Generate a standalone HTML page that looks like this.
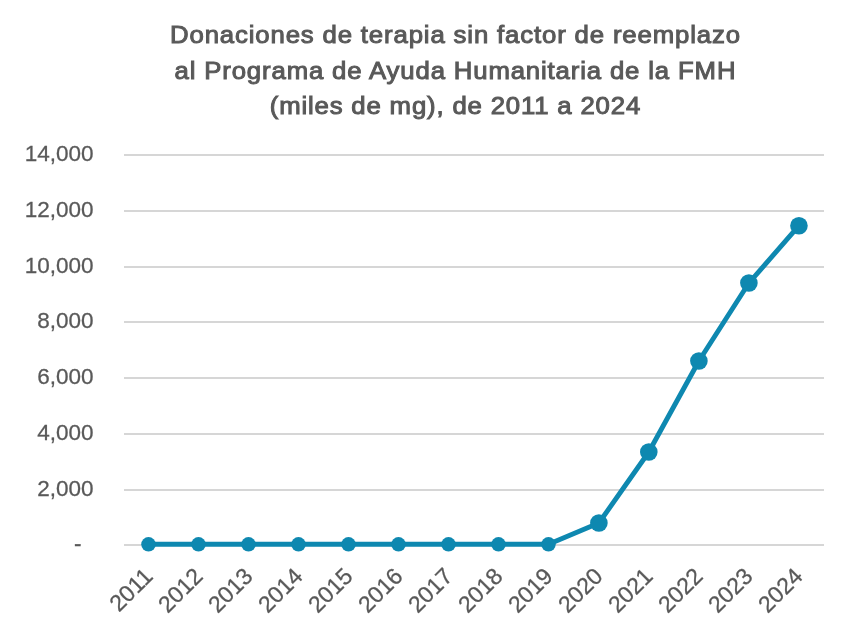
<!DOCTYPE html><html><head><meta charset="utf-8"><style>html,body{margin:0;padding:0;background:#fff;width:850px;height:635px;overflow:hidden}svg{display:block;will-change:transform}</style></head><body>
<svg width="850" height="635" viewBox="0 0 850 635">
<text x="455" y="42.6" text-anchor="middle" font-family="Liberation Sans" font-weight="normal" font-size="24.3" fill="#595959" stroke="#595959" stroke-width="1.0" textLength="537.7" lengthAdjust="spacing" transform="translate(455 0) scale(1.06 1) translate(-455 0)">Donaciones de terapia sin factor de reemplazo</text>
<text x="455" y="78.9" text-anchor="middle" font-family="Liberation Sans" font-weight="normal" font-size="24.3" fill="#595959" stroke="#595959" stroke-width="1.0" textLength="529.2" lengthAdjust="spacing" transform="translate(455 0) scale(1.06 1) translate(-455 0)">al Programa de Ayuda Humanitaria de la FMH</text>
<text x="455" y="114.3" text-anchor="middle" font-family="Liberation Sans" font-weight="normal" font-size="24.3" fill="#595959" stroke="#595959" stroke-width="1.0" textLength="349.5" lengthAdjust="spacing" transform="translate(455 0) scale(1.06 1) translate(-455 0)">(miles de mg), de 2011 a 2024</text>
<rect x="124" y="544.0" width="700" height="2" fill="#d6d6d6"/>
<text x="81.6" y="551.2" text-anchor="end" font-family="Liberation Sans" font-size="22.5" fill="#595959" stroke="#595959" stroke-width="0.28">-</text>
<rect x="124" y="489.0" width="700" height="2" fill="#d6d6d6"/>
<text x="93.6" y="496.2" text-anchor="end" font-family="Liberation Sans" font-size="22.5" fill="#595959" stroke="#595959" stroke-width="0.28">2,000</text>
<rect x="124" y="433.0" width="700" height="2" fill="#d6d6d6"/>
<text x="93.6" y="440.2" text-anchor="end" font-family="Liberation Sans" font-size="22.5" fill="#595959" stroke="#595959" stroke-width="0.28">4,000</text>
<rect x="124" y="377.0" width="700" height="2" fill="#d6d6d6"/>
<text x="93.6" y="384.2" text-anchor="end" font-family="Liberation Sans" font-size="22.5" fill="#595959" stroke="#595959" stroke-width="0.28">6,000</text>
<rect x="124" y="321.0" width="700" height="2" fill="#d6d6d6"/>
<text x="93.6" y="328.2" text-anchor="end" font-family="Liberation Sans" font-size="22.5" fill="#595959" stroke="#595959" stroke-width="0.28">8,000</text>
<rect x="124" y="266.0" width="700" height="2" fill="#d6d6d6"/>
<text x="93.6" y="273.2" text-anchor="end" font-family="Liberation Sans" font-size="22.5" fill="#595959" stroke="#595959" stroke-width="0.28">10,000</text>
<rect x="124" y="210.0" width="700" height="2" fill="#d6d6d6"/>
<text x="93.6" y="217.2" text-anchor="end" font-family="Liberation Sans" font-size="22.5" fill="#595959" stroke="#595959" stroke-width="0.28">12,000</text>
<rect x="124" y="154.0" width="700" height="2" fill="#d6d6d6"/>
<text x="93.6" y="161.2" text-anchor="end" font-family="Liberation Sans" font-size="22.5" fill="#595959" stroke="#595959" stroke-width="0.28">14,000</text>
<path d="M148.50,544.30 L198.50,544.30 L248.50,544.30 L298.50,544.30 L348.50,544.30 L398.50,544.30 L448.50,544.30 L498.50,544.30 L548.50,544.30 L598.90,523.00 L648.80,452.00 L698.90,361.00 L748.90,283.00 L798.95,225.70" fill="none" stroke="#0e88b0" stroke-width="4.9" stroke-linejoin="round"/>
<circle cx="148.50" cy="544.30" r="7.25" fill="#0e88b0"/>
<circle cx="198.50" cy="544.30" r="7.25" fill="#0e88b0"/>
<circle cx="248.50" cy="544.30" r="7.25" fill="#0e88b0"/>
<circle cx="298.50" cy="544.30" r="7.25" fill="#0e88b0"/>
<circle cx="348.50" cy="544.30" r="7.25" fill="#0e88b0"/>
<circle cx="398.50" cy="544.30" r="7.25" fill="#0e88b0"/>
<circle cx="448.50" cy="544.30" r="7.25" fill="#0e88b0"/>
<circle cx="498.50" cy="544.30" r="7.25" fill="#0e88b0"/>
<circle cx="548.50" cy="544.30" r="7.25" fill="#0e88b0"/>
<circle cx="598.90" cy="523.00" r="8.8" fill="#0e88b0"/>
<circle cx="648.80" cy="452.00" r="8.8" fill="#0e88b0"/>
<circle cx="698.90" cy="361.00" r="8.8" fill="#0e88b0"/>
<circle cx="748.90" cy="283.00" r="8.8" fill="#0e88b0"/>
<circle cx="798.95" cy="225.70" r="8.8" fill="#0e88b0"/>
<text x="154.20" y="577.50" text-anchor="end" transform="rotate(-45 154.20 577.50)" font-family="Liberation Sans" font-size="23.2" fill="#595959" stroke="#595959" stroke-width="0.28">2011</text>
<text x="204.20" y="577.50" text-anchor="end" transform="rotate(-45 204.20 577.50)" font-family="Liberation Sans" font-size="23.2" fill="#595959" stroke="#595959" stroke-width="0.28">2012</text>
<text x="254.20" y="577.50" text-anchor="end" transform="rotate(-45 254.20 577.50)" font-family="Liberation Sans" font-size="23.2" fill="#595959" stroke="#595959" stroke-width="0.28">2013</text>
<text x="304.20" y="577.50" text-anchor="end" transform="rotate(-45 304.20 577.50)" font-family="Liberation Sans" font-size="23.2" fill="#595959" stroke="#595959" stroke-width="0.28">2014</text>
<text x="354.20" y="577.50" text-anchor="end" transform="rotate(-45 354.20 577.50)" font-family="Liberation Sans" font-size="23.2" fill="#595959" stroke="#595959" stroke-width="0.28">2015</text>
<text x="404.20" y="577.50" text-anchor="end" transform="rotate(-45 404.20 577.50)" font-family="Liberation Sans" font-size="23.2" fill="#595959" stroke="#595959" stroke-width="0.28">2016</text>
<text x="454.20" y="577.50" text-anchor="end" transform="rotate(-45 454.20 577.50)" font-family="Liberation Sans" font-size="23.2" fill="#595959" stroke="#595959" stroke-width="0.28">2017</text>
<text x="504.20" y="577.50" text-anchor="end" transform="rotate(-45 504.20 577.50)" font-family="Liberation Sans" font-size="23.2" fill="#595959" stroke="#595959" stroke-width="0.28">2018</text>
<text x="554.20" y="577.50" text-anchor="end" transform="rotate(-45 554.20 577.50)" font-family="Liberation Sans" font-size="23.2" fill="#595959" stroke="#595959" stroke-width="0.28">2019</text>
<text x="604.20" y="577.50" text-anchor="end" transform="rotate(-45 604.20 577.50)" font-family="Liberation Sans" font-size="23.2" fill="#595959" stroke="#595959" stroke-width="0.28">2020</text>
<text x="654.20" y="577.50" text-anchor="end" transform="rotate(-45 654.20 577.50)" font-family="Liberation Sans" font-size="23.2" fill="#595959" stroke="#595959" stroke-width="0.28">2021</text>
<text x="704.20" y="577.50" text-anchor="end" transform="rotate(-45 704.20 577.50)" font-family="Liberation Sans" font-size="23.2" fill="#595959" stroke="#595959" stroke-width="0.28">2022</text>
<text x="754.20" y="577.50" text-anchor="end" transform="rotate(-45 754.20 577.50)" font-family="Liberation Sans" font-size="23.2" fill="#595959" stroke="#595959" stroke-width="0.28">2023</text>
<text x="804.20" y="577.50" text-anchor="end" transform="rotate(-45 804.20 577.50)" font-family="Liberation Sans" font-size="23.2" fill="#595959" stroke="#595959" stroke-width="0.28">2024</text>
</svg></body></html>
